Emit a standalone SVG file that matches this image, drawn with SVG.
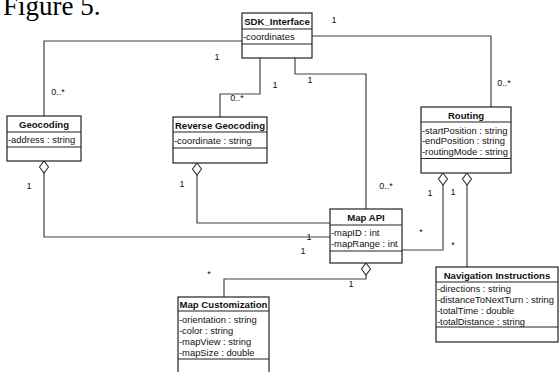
<svg xmlns="http://www.w3.org/2000/svg" width="559" height="372" viewBox="0 0 559 372">
<style>
.box{fill:#fff;stroke:#222;stroke-width:1.2}
.sep{stroke:#222;stroke-width:1.2}
.name{font-family:"Liberation Sans",Arial,sans-serif;font-weight:bold;font-size:9.6px;fill:#111;text-anchor:middle}
.attr{font-family:"Liberation Sans",Arial,sans-serif;font-size:9.4px;fill:#111}
.lbl{font-family:"Liberation Sans",Arial,sans-serif;font-size:9px;fill:#111;text-anchor:middle}
.ln{fill:none;stroke:#444;stroke-width:1.2}
.dia{fill:#fff;stroke:#333;stroke-width:1.1}
</style>
<rect width="559" height="372" fill="#fff"/>
<text x="3" y="15" font-family="'Liberation Serif','Times New Roman',serif" font-size="27" fill="#000">Figure 5.</text>

<g id="connectors">
<polyline class="ln" points="242,41 44,41 44,116"/>
<polyline class="ln" points="260,58 260,94 220,94 220,117"/>
<polyline class="ln" points="295,58 295,74 366,74 366,209"/>
<polyline class="ln" points="312,36 491,36 491,107"/>
<polyline class="ln" points="44,173 44,237 330,237"/>
<polygon class="dia" points="44,161 48.5,167 44,173 39.5,167"/>
<polyline class="ln" points="197,175 197,223 330,223"/>
<polygon class="dia" points="197,163 201.5,169 197,175 192.5,169"/>
<polyline class="ln" points="366,275 366,279 224,279 224,297"/>
<polygon class="dia" points="366,263 370.5,269 366,275 361.5,269"/>
<polyline class="ln" points="443,185 443,250 402,250"/>
<polygon class="dia" points="443,173 447.5,179 443,185 438.5,179"/>
<polyline class="ln" points="467,185 467,267"/>
<polygon class="dia" points="467,173 471.5,179 467,185 462.5,179"/>
<text class="lbl" x="217" y="60">1</text>
<text class="lbl" x="58" y="95">0..*</text>
<text class="lbl" x="275" y="88">1</text>
<text class="lbl" x="237" y="101">0..*</text>
<text class="lbl" x="310" y="83">1</text>
<text class="lbl" x="386" y="189">0..*</text>
<text class="lbl" x="334" y="23">1</text>
<text class="lbl" x="504" y="86">0..*</text>
<text class="lbl" x="29" y="189">1</text>
<text class="lbl" x="182" y="187">1</text>
<text class="lbl" x="309" y="240">1</text>
<text class="lbl" x="303" y="254">1</text>
<text class="lbl" x="351" y="287">1</text>
<text class="lbl" x="209" y="277">*</text>
<text class="lbl" x="421" y="235">*</text>
<text class="lbl" x="453" y="248">*</text>
<text class="lbl" x="430" y="196">1</text>
<text class="lbl" x="453" y="195">1</text>
</g>

<g id="sdk-interface">
<rect class="box" x="242" y="13" width="70" height="45"/>
<line class="sep" x1="242" y1="29" x2="312" y2="29"/>
<line class="sep" x1="242" y1="44" x2="312" y2="44"/>
<text class="name" x="277" y="25">SDK_Interface</text>
<text class="attr" x="243" y="40">-coordinates</text>
</g>

<g id="geocoding">
<rect class="box" x="7" y="116" width="74" height="45"/>
<line class="sep" x1="7" y1="132" x2="81" y2="132"/>
<line class="sep" x1="7" y1="147" x2="81" y2="147"/>
<text class="name" x="44" y="128">Geocoding</text>
<text class="attr" x="8" y="143">-address : string</text>
</g>

<g id="reverse-geocoding">
<rect class="box" x="173" y="117" width="94" height="46"/>
<line class="sep" x1="173" y1="132" x2="267" y2="132"/>
<line class="sep" x1="173" y1="148" x2="267" y2="148"/>
<text class="name" x="220" y="129">Reverse Geocoding</text>
<text class="attr" x="174" y="144">-coordinate : string</text>
</g>

<g id="map-api">
<rect class="box" x="330" y="209" width="72" height="54"/>
<line class="sep" x1="330" y1="225" x2="402" y2="225"/>
<line class="sep" x1="330" y1="251" x2="402" y2="251"/>
<text class="name" x="366" y="221">Map API</text>
<text class="attr" x="331" y="236">-mapID : int</text>
<text class="attr" x="331" y="247">-mapRange : int</text>
</g>

<g id="routing">
<rect class="box" x="421" y="107" width="90" height="66"/>
<line class="sep" x1="421" y1="122" x2="511" y2="122"/>
<line class="sep" x1="421" y1="158.5" x2="511" y2="158.5"/>
<text class="name" x="466" y="119">Routing</text>
<text class="attr" x="422" y="133.5">-startPosition : string</text>
<text class="attr" x="422" y="144">-endPosition : string</text>
<text class="attr" x="422" y="154.5">-routingMode : string</text>
</g>

<g id="navigation-instructions">
<rect class="box" x="436" y="267" width="122" height="75"/>
<line class="sep" x1="436" y1="282" x2="558" y2="282"/>
<line class="sep" x1="436" y1="327" x2="558" y2="327"/>
<text class="name" x="497" y="279">Navigation Instructions</text>
<text class="attr" x="437" y="291.5">-directions : string</text>
<text class="attr" x="437" y="302.5">-distanceToNextTurn : string</text>
<text class="attr" x="437" y="313.5">-totalTime : double</text>
<text class="attr" x="437" y="324.5">-totalDistance : string</text>
</g>

<g id="map-customization">
<rect class="box" x="178" y="297" width="91" height="80"/>
<line class="sep" x1="178" y1="311" x2="269" y2="311"/>
<line class="sep" x1="178" y1="359" x2="269" y2="359"/>
<text class="name" x="223.5" y="308">Map Customization</text>
<text class="attr" x="179" y="322.5">-orientation : string</text>
<text class="attr" x="179" y="333.5">-color : string</text>
<text class="attr" x="179" y="344.5">-mapView : string</text>
<text class="attr" x="179" y="355.5">-mapSize : double</text>
</g>
</svg>
